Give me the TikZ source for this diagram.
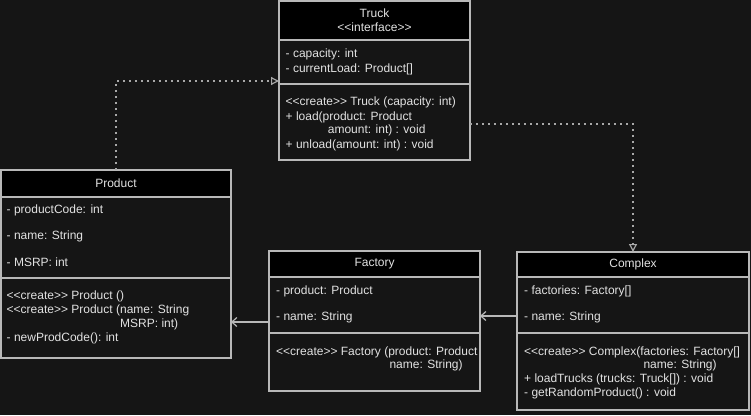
\documentclass[tikz,border=0pt]{standalone}
\usepackage{fontspec}
\newfontfamily\umlfont{Liberation Sans}
\usetikzlibrary{arrows.meta}

\definecolor{bgc}{HTML}{151515}
\definecolor{linec}{HTML}{B8B8B8}
\definecolor{textc}{HTML}{E2E2E2}
\definecolor{depc}{HTML}{A8A8A8}

\tikzset{
    box/.style={draw=linec, line width=1.2pt, inner sep=0pt, outer sep=0pt, anchor=north west},
    head/.style={box, fill=black, text=textc, font=\umlfont\fontsize{12}{14}\selectfont, align=center},
    member/.style={text=textc, font=\umlfont\fontsize{12}{14}\selectfont, inner sep=0pt, anchor=base west},
    depends/.style={depc, line width=1.2pt, dash pattern=on 2pt off 4pt,
        -{Triangle[open,length=8pt,width=8pt]}},
    assoc/.style={linec, line width=1.2pt, -{Straight Barb[length=5pt,width=9pt]}}
}

\begin{document}
\begin{tikzpicture}[x=1pt,y=-1pt]
    \fill[bgc] (0,0) rectangle (751,415);
    \useasboundingbox (0,0) rectangle (751,415);

    % Truck
    \node[head, minimum width=191pt, minimum height=39pt] (truckhead) at (279,1) {Truck\\<<interface>>};
    \node[box, minimum width=191pt, minimum height=44pt] (truckattr) at (279,40) {};
    \node[box, minimum width=191pt, minimum height=76pt] (truckops) at (279,84) {};
    \node[member] (truckcap) at (285.5,57.8) {- capacity: int};
    \node[member] (truckload) at (285.5,72.1) {- currentLoad: Product[]};
    \node[member] (truckcreate) at (285.5,105.5) {<<create>> Truck (capacity: int)};
    \node[member] (truckloadop) at (285.5,120.5) {+ load(product: Product};
    \node[member] (truckamount) at (327.7,133.8) {amount: int) : void};
    \node[member] (truckunload) at (285.5,148.1) {+ unload(amount: int) : void};

    % Product
    \node[head, minimum width=230pt, minimum height=27pt] (prodhead) at (1,170) {Product};
    \node[box, minimum width=230pt, minimum height=81pt] (prodattr) at (1,197) {};
    \node[box, minimum width=230pt, minimum height=80pt] (prodops) at (1,278) {};
    \node[member] (prodcode) at (6.5,213.1) {- productCode: int};
    \node[member] (prodname) at (6.5,239.8) {- name: String};
    \node[member] (prodmsrp) at (6.5,266.1) {- MSRP: int};
    \node[member] (prodcreatea) at (6.5,299.8) {<<create>> Product ()};
    \node[member] (prodcreateb) at (6.5,313.8) {<<create>> Product (name: String};
    \node[member] (prodcreatec) at (120,327.8) {MSRP: int)};
    \node[member] (prodnewcode) at (6.5,341.1) {- newProdCode(): int};

    % Factory
    \node[head, minimum width=211pt, minimum height=26pt] (facthead) at (269,251) {Factory};
    \node[box, minimum width=211pt, minimum height=56pt] (factattr) at (269,277) {};
    \node[box, minimum width=211pt, minimum height=58pt] (factops) at (269,333) {};
    \node[member] (factprod) at (276,294.5) {- product: Product};
    \node[member] (factname) at (276,320.5) {- name: String};
    \node[member] (factcreatea) at (276,355.5) {<<create>> Factory (product: Product};
    \node[member] (factcreateb) at (389.3,368.8) {name: String)};

    % Complex
    \node[head, minimum width=232pt, minimum height=25pt] (cplxhead) at (517,252) {Complex};
    \node[box, minimum width=232pt, minimum height=56pt] (cplxattr) at (517,277) {};
    \node[box, minimum width=232pt, minimum height=77pt] (cplxops) at (517,333) {};
    \node[member] (cplxfact) at (524,294.8) {- factories: Factory[]};
    \node[member] (cplxname) at (524,320.5) {- name: String};
    \node[member] (cplxcreatea) at (524,355.5) {<<create>> Complex(factories: Factory[]};
    \node[member] (cplxcreateb) at (643.3,368.8) {name: String)};
    \node[member] (cplxtrucks) at (524,382.8) {+ loadTrucks (trucks: Truck[]) : void};
    \node[member] (cplxrandom) at (524,396.1) {- getRandomProduct() : void};

    % relations
    \draw[depends] (prodhead.north) |- (truckattr.west |- 0,81);
    \draw[depends] (truckops.east |- 0,124) -| (cplxhead.north);
    \draw[assoc] (cplxattr.west |- 0,316) -- (factattr.east |- 0,316);
    \draw[assoc] (factattr.west |- 0,322) -- (prodops.east |- 0,322);
\end{tikzpicture}
\end{document}
